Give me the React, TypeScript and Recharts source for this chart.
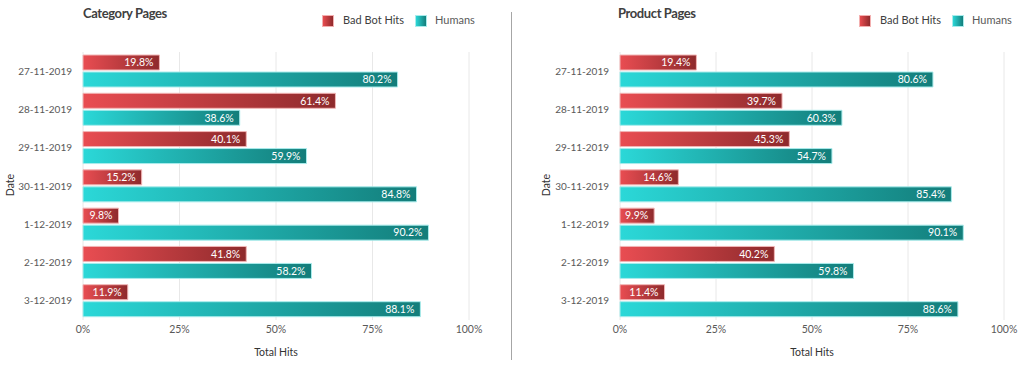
import React from "react";
import { BarChart, Bar, XAxis, YAxis, CartesianGrid, LabelList } from "recharts";

const dates = ["27-11-2019", "28-11-2019", "29-11-2019", "30-11-2019", "1-12-2019", "2-12-2019", "3-12-2019"];
// Bar lengths as drawn in the picture (percent of axis)
const categoryBots = [19.8, 65.4, 42.3, 15.2, 9.2, 42.3, 11.6];
const categoryHumans = [81.5, 40.6, 57.9, 86.4, 89.5, 59.2, 87.4];
const productBots = [19.9, 42.2, 44.1, 15.2, 8.9, 40.2, 11.6];
const productHumans = [81.5, 57.8, 55.2, 86.3, 89.4, 60.8, 88.0];
// Percentage labels printed on the bars
const categoryBotLabels = ["19.8%", "61.4%", "40.1%", "15.2%", "9.8%", "41.8%", "11.9%"];
const categoryHumanLabels = ["80.2%", "38.6%", "59.9%", "84.8%", "90.2%", "58.2%", "88.1%"];
const productBotLabels = ["19.4%", "39.7%", "45.3%", "14.6%", "9.9%", "40.2%", "11.4%"];
const productHumanLabels = ["80.6%", "60.3%", "54.7%", "85.4%", "90.1%", "59.8%", "88.6%"];
const xTicks = [0, 25, 50, 75, 100];
const seriesNames = ["Bad Bot Hits", "Humans"];

const FONT = "Lato, 'Open Sans', sans-serif";

type PanelProps = {
  id: string;
  title: string;
  bots: number[];
  humans: number[];
  botLabels: string[];
  humanLabels: string[];
  left: number;
  marginLeft: number;
  marginRight: number;
  dateX: number;
  titleX: number;
  legendX: number;
};

function Panel(p: PanelProps) {
  const data = dates.map((d, i) => ({
    date: d,
    bots: p.bots[i],
    humans: p.humans[i],
    botLabel: p.botLabels[i],
    humanLabel: p.humanLabels[i],
  }));
  const legendText = { position: "absolute" as const, top: 13, fontFamily: FONT, fontSize: 11, whiteSpace: "nowrap" as const, lineHeight: "14px" };
  return (
    <div style={{ position: "absolute", left: p.left, top: 0, width: 512, height: 365 }}>
      <div
        style={{
          position: "absolute",
          left: p.titleX,
          top: 5,
          fontFamily: FONT,
          fontWeight: 700,
          fontSize: 13,
          letterSpacing: -0.4,
          color: "#404040",
          whiteSpace: "nowrap",
          lineHeight: "16px",
        }}
      >
        {p.title}
      </div>
      <span
        style={{
          position: "absolute",
          left: p.legendX,
          top: 15,
          width: 12,
          height: 12,
          background: "linear-gradient(to right, #e84c50, #8f2a2c)",
          border: "1px solid #f3b0b0",
          boxSizing: "border-box",
        }}
      />
      <span style={{ ...legendText, left: p.legendX + 21, color: "#404040" }}>{seriesNames[0]}</span>
      <span
        style={{
          position: "absolute",
          left: p.legendX + 93,
          top: 15,
          width: 12,
          height: 12,
          background: "linear-gradient(to right, #2ad6d6, #147e7b)",
          border: "1px solid #a8ecec",
          boxSizing: "border-box",
        }}
      />
      <span style={{ ...legendText, left: p.legendX + 113, color: "#595959" }}>{seriesNames[1]}</span>
      <BarChart
        width={512}
        height={365}
        data={data}
        layout="vertical"
        margin={{ top: 52, right: p.marginRight, bottom: 5, left: 0 }}
        barSize={15}
        barGap={2}
        style={{ position: "absolute", left: 0, top: 0, fontFamily: FONT }}
      >
        <defs>
          <linearGradient id={`${p.id}-red`} x1="0" y1="0" x2="1" y2="0">
            <stop offset="0%" stopColor="#e94d52" />
            <stop offset="100%" stopColor="#8e2a2c" />
          </linearGradient>
          <linearGradient id={`${p.id}-teal`} x1="0" y1="0" x2="1" y2="0">
            <stop offset="0%" stopColor="#2bd8d8" />
            <stop offset="100%" stopColor="#137d7a" />
          </linearGradient>
        </defs>
        <CartesianGrid horizontal={false} vertical={true} stroke="#e8e8e8" />
        <XAxis
          type="number"
          domain={[0, 100]}
          ticks={xTicks}
          tickFormatter={(v: number) => `${v}%`}
          axisLine={false}
          tickLine={false}
          tickSize={0}
          tickMargin={6}
          height={40}
          tick={{ fontSize: 10.5, fill: "#595959" }}
          label={{ value: "Total Hits", position: "insideBottom", offset: 4, fontSize: 10.5, fill: "#333" }}
        />
        <YAxis
          type="category"
          dataKey="date"
          width={p.marginLeft}
          axisLine={false}
          tickLine={false}
          tickSize={0}
          tickMargin={11}
          tick={{ fontSize: 10, fill: "#595959" }}
          label={{
            content: () => (
              <text
                x={p.dateX}
                y={185}
                transform={`rotate(-90 ${p.dateX} 185)`}
                textAnchor="middle"
                dominantBaseline="central"
                fontSize={10.5}
                fill="#333"
              >
                Date
              </text>
            ),
          }}
        />
        <Bar dataKey="bots" name={seriesNames[0]} fill={`url(#${p.id}-red)`} stroke="#f2b6b6" strokeWidth={1} isAnimationActive={false}>
          <LabelList dataKey="botLabel" position="insideRight" offset={6} fill="#ffffff" fontSize={10.5} />
        </Bar>
        <Bar dataKey="humans" name={seriesNames[1]} fill={`url(#${p.id}-teal)`} stroke="#a9ecec" strokeWidth={1} isAnimationActive={false}>
          <LabelList dataKey="humanLabel" position="insideRight" offset={6} fill="#ffffff" fontSize={10.5} />
        </Bar>
      </BarChart>
    </div>
  );
}

export default function App() {
  return (
    <div style={{ position: "absolute", left: 0, top: 0, width: 1024, height: 365, background: "#fff" }}>
      <Panel
        id="cat"
        title="Category Pages"
        bots={categoryBots}
        humans={categoryHumans}
        botLabels={categoryBotLabels}
        humanLabels={categoryHumanLabels}
        left={0}
        marginLeft={83}
        marginRight={43}
        dateX={10}
        titleX={83}
        legendX={322}
      />
      <div style={{ position: "absolute", left: 511, top: 12, width: 1, height: 348, background: "#a6a6a6" }} />
      <Panel
        id="prod"
        title="Product Pages"
        bots={productBots}
        humans={productHumans}
        botLabels={productBotLabels}
        humanLabels={productHumanLabels}
        left={512}
        marginLeft={108}
        marginRight={20}
        dateX={34}
        titleX={106}
        legendX={347}
      />
    </div>
  );
}
